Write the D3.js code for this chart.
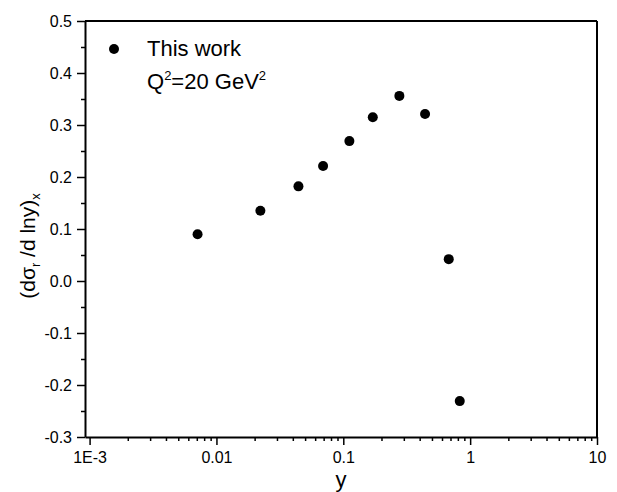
<!DOCTYPE html>
<html>
<head>
<meta charset="utf-8">
<script src="https://cdn.jsdelivr.net/npm/d3@7"></script>
<style>
  body { margin: 0; background: #fff; }
  svg text { font-family: "Liberation Sans", Arial, sans-serif; fill: #000; }
</style>
</head>
<body>
<div id="chart"></div>
<script>
const width = 617;
const height = 492;
const margin = { top: 21, right: 20, bottom: 55, left: 85 };

// values
const yValues = [0.0071, 0.0222, 0.0443, 0.0693, 0.1117, 0.1708, 0.2767, 0.441, 0.678, 0.828];
const sigmaValues = [0.090, 0.135, 0.182, 0.221, 0.269, 0.315, 0.356, 0.321, 0.042, -0.231];
const xTickValues = [0.001, 0.01, 0.1, 1, 10];
const xTickLabels = ["1E-3", "0.01", "0.1", "1", "10"];
const yTickValues = [-0.3, -0.2, -0.1, 0.0, 0.1, 0.2, 0.3, 0.4, 0.5];

const svg = d3.select("#chart")
  .append("svg")
  .attr("width", width)
  .attr("height", height);

const x = d3.scaleLog()
  .domain([0.00092, 10])
  .range([margin.left, width - margin.right]);

const y = d3.scaleLinear()
  .domain([-0.3, 0.5])
  .range([height - margin.bottom, margin.top]);

const x0 = margin.left, x1 = width - margin.right;
const y0 = height - margin.bottom, y1 = margin.top;

// minor ticks: 2..9 in each decade
let xMinor = [];
[0.001, 0.01, 0.1, 1].forEach(d => {
  for (let k = 2; k <= 9; k++) xMinor.push(d * k);
});
let yMinor = yTickValues.slice(0, -1).map(v => v + 0.05);

// bottom axis
svg.append("g")
  .attr("transform", "translate(0," + y0 + ")")
  .call(d3.axisBottom(x).tickValues(xMinor).tickSize(4).tickFormat("").tickSizeOuter(0))
  .call(g => g.select(".domain").remove());

const xAxis = svg.append("g")
  .attr("transform", "translate(0," + y0 + ")")
  .call(d3.axisBottom(x).tickValues(xTickValues).tickSize(8).tickSizeOuter(0)
    .tickPadding(7)
    .tickFormat((d, i) => xTickLabels[i]));

// left axis
svg.append("g")
  .attr("transform", "translate(" + x0 + ",0)")
  .call(d3.axisLeft(y).tickValues(yMinor).tickSize(4).tickFormat("").tickSizeOuter(0))
  .call(g => g.select(".domain").remove());

const yAxis = svg.append("g")
  .attr("transform", "translate(" + x0 + ",0)")
  .call(d3.axisLeft(y).tickValues(yTickValues).tickSize(8).tickSizeOuter(0)
    .tickPadding(5)
    .tickFormat(d => d3.format(".1f")(d).replace("\u2212", "-")));

svg.selectAll(".tick line").attr("stroke", "#000").attr("stroke-width", 1.5);
svg.selectAll(".domain").attr("stroke", "#000").attr("stroke-width", 2);
svg.selectAll(".tick text").style("font-size", "16px");

// frame on top and right
svg.append("line").attr("x1", x0).attr("x2", x1).attr("y1", y1).attr("y2", y1)
  .attr("stroke", "#000").attr("stroke-width", 2);
svg.append("line").attr("x1", x1).attr("x2", x1).attr("y1", y1).attr("y2", y0)
  .attr("stroke", "#000").attr("stroke-width", 2);

// points
svg.selectAll("circle.pt")
  .data(yValues)
  .enter()
  .append("circle")
  .attr("class", "pt")
  .attr("cx", d => x(d))
  .attr("cy", (d, i) => y(sigmaValues[i]))
  .attr("r", 5)
  .attr("fill", "#000");

// legend
svg.append("circle").attr("cx", 114).attr("cy", 49).attr("r", 5).attr("fill", "#000");
svg.append("text").attr("x", 147).attr("y", 56).style("font-size", "22px").text("This work");
const q = svg.append("text").attr("x", 147).attr("y", 89).style("font-size", "22px");
q.append("tspan").text("Q");
q.append("tspan").attr("dy", -9).style("font-size", "13px").text("2");
q.append("tspan").attr("dy", 9).text("=20 GeV");
q.append("tspan").attr("dy", -9).style("font-size", "13px").text("2");

// axis titles
svg.append("text")
  .attr("x", (x0 + x1) / 2)
  .attr("y", 487)
  .attr("text-anchor", "middle")
  .style("font-size", "22px")
  .text("y");

const yt = svg.append("text")
  .attr("transform", "translate(35,246) rotate(-90)")
  .attr("text-anchor", "middle")
  .style("font-size", "21px");
yt.append("tspan").text("(dσ");
yt.append("tspan").attr("dy", 5).style("font-size", "13px").text("r");
yt.append("tspan").attr("dy", -5).text(" /d lny)");
yt.append("tspan").attr("dy", 5).style("font-size", "13px").text("x");
</script>
</body>
</html>
